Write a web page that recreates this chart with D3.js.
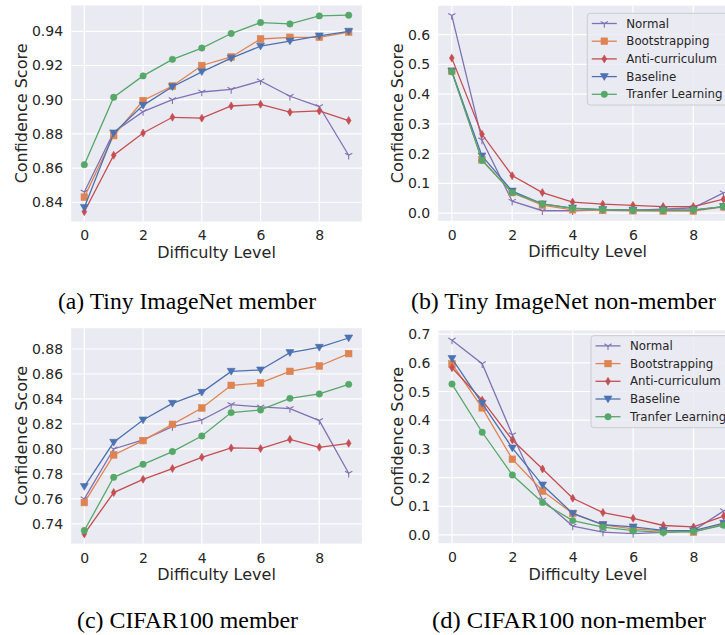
<!DOCTYPE html>
<html>
<head>
<meta charset="utf-8">
<script src="https://cdn.jsdelivr.net/npm/d3@7/dist/d3.min.js"></script>
<style>
  html, body { margin: 0; padding: 0; background: #ffffff; }
  svg { display: block; }
</style>
</head>
<body>
<svg id="chart" width="725" height="635"></svg>
<script>
// ---------------- DATA ----------------
const levels = [0, 1, 2, 3, 4, 5, 6, 7, 8, 9];
const seriesNames = ["Normal", "Bootstrapping", "Anti-curriculum", "Baseline", "Tranfer Learning"];

// (a) Tiny ImageNet member
const tinyMemberNormal   = [0.846, 0.881, 0.893, 0.900, 0.9045, 0.906, 0.911, 0.902, 0.896, 0.8675];
const tinyMemberBoot     = [0.843, 0.879, 0.8995, 0.908, 0.920, 0.925, 0.9355, 0.9365, 0.9365, 0.9395];
const tinyMemberAnti     = [0.8345, 0.8675, 0.8805, 0.8897, 0.8892, 0.8963, 0.8973, 0.8927, 0.8934, 0.8878];
const tinyMemberBaseline = [0.837, 0.8805, 0.8967, 0.9076, 0.9163, 0.9243, 0.9313, 0.9343, 0.9373, 0.9400];
const tinyMemberTransfer = [0.862, 0.9014, 0.9139, 0.9236, 0.9302, 0.9387, 0.9451, 0.9443, 0.949, 0.9494];

// (b) Tiny ImageNet non-member
const tinyNonNormal   = [0.664, 0.246, 0.040, 0.008, 0.008, 0.011, 0.010, 0.013, 0.018, 0.068];
const tinyNonBoot     = [0.477, 0.179, 0.069, 0.027, 0.011, 0.009, 0.008, 0.007, 0.007, 0.021];
const tinyNonAnti     = [0.521, 0.265, 0.126, 0.069, 0.037, 0.030, 0.026, 0.022, 0.022, 0.047];
const tinyNonBaseline = [0.477, 0.192, 0.074, 0.031, 0.017, 0.012, 0.010, 0.010, 0.010, 0.022];
const tinyNonTransfer = [0.475, 0.177, 0.069, 0.031, 0.016, 0.012, 0.010, 0.010, 0.011, 0.022];

// (c) CIFAR100 member
const cifarMemberNormal   = [0.760, 0.800, 0.8072, 0.8179, 0.8232, 0.8355, 0.8336, 0.8323, 0.8227, 0.7805];
const cifarMemberBoot     = [0.7571, 0.7952, 0.8067, 0.8197, 0.8328, 0.8509, 0.8528, 0.8621, 0.8664, 0.8763];
const cifarMemberAnti     = [0.732, 0.7651, 0.7757, 0.7843, 0.7933, 0.8008, 0.8003, 0.8077, 0.8013, 0.8045];
const cifarMemberBaseline = [0.7699, 0.8053, 0.8232, 0.8365, 0.8453, 0.8621, 0.8632, 0.8771, 0.8813, 0.8888];
const cifarMemberTransfer = [0.7347, 0.7773, 0.7877, 0.7979, 0.8104, 0.8291, 0.8312, 0.8405, 0.8440, 0.8517];

// (d) CIFAR100 non-member
const cifarNonNormal   = [0.679, 0.597, 0.349, 0.122, 0.031, 0.010, 0.005, 0.009, 0.015, 0.084];
const cifarNonBoot     = [0.596, 0.443, 0.264, 0.153, 0.075, 0.035, 0.021, 0.014, 0.010, 0.038];
const cifarNonAnti     = [0.583, 0.470, 0.331, 0.230, 0.128, 0.078, 0.058, 0.033, 0.028, 0.066];
const cifarNonBaseline = [0.615, 0.459, 0.303, 0.174, 0.075, 0.036, 0.028, 0.016, 0.015, 0.041];
const cifarNonTransfer = [0.526, 0.358, 0.209, 0.113, 0.050, 0.027, 0.015, 0.009, 0.012, 0.034];

// tick labels
const xTicks = [0, 2, 4, 6, 8];
const yTicksA = [0.84, 0.86, 0.88, 0.90, 0.92, 0.94];
const yTicksB = [0.0, 0.1, 0.2, 0.3, 0.4, 0.5, 0.6];
const yTicksC = [0.74, 0.76, 0.78, 0.80, 0.82, 0.84, 0.86, 0.88];
const yTicksD = [0.0, 0.1, 0.2, 0.3, 0.4, 0.5, 0.6, 0.7];

const captions = ["(a) Tiny ImageNet member", "(b) Tiny ImageNet non-member",
                  "(c) CIFAR100 member", "(d) CIFAR100 non-member"];
const xLabel = "Difficulty Level";
const yLabel = "Confidence Score";

// ---------------- STYLE ----------------
const colors = ["#8172B3", "#DD8452", "#C44E52", "#4C72B0", "#55A868"];
const markers = ["tri", "square", "thindiamond", "vtri", "circle"];
const textColor = "#262626";
const sansFont = "'DejaVu Sans', Verdana, sans-serif";
const serifFont = "'Liberation Serif', 'Times New Roman', serif";

const panels = [
  { series: [tinyMemberNormal, tinyMemberBoot, tinyMemberAnti, tinyMemberBaseline, tinyMemberTransfer],
    ticks: yTicksA, fmt: ".2f", left: 71.1, right: 361.9, top: 5.4, bottom: 221.5,
    caption: captions[0], capX: 58, capW: 258, capY: 309, legend: null },
  { series: [tinyNonNormal, tinyNonBoot, tinyNonAnti, tinyNonBaseline, tinyNonTransfer],
    ticks: yTicksB, fmt: ".1f", left: 438.2, right: 737.1, top: 5.8, bottom: 220.8,
    caption: captions[1], capX: 411, capW: 305, capY: 309, legend: { x: 587.3, y: 13.3, w: 145, h: 91.7 } },
  { series: [cifarMemberNormal, cifarMemberBoot, cifarMemberAnti, cifarMemberBaseline, cifarMemberTransfer],
    ticks: yTicksC, fmt: ".2f", left: 71.1, right: 361.9, top: 328.2, bottom: 543.7,
    caption: captions[2], capX: 77, capW: 221, capY: 628, legend: null },
  { series: [cifarNonNormal, cifarNonBoot, cifarNonAnti, cifarNonBaseline, cifarNonTransfer],
    ticks: yTicksD, fmt: ".1f", left: 438.4, right: 737.3, top: 330.5, bottom: 543.2,
    caption: captions[3], capX: 432, capW: 274, capY: 628, legend: { x: 591, y: 335.7, w: 145, h: 92 } }
];

const svg = d3.select("#chart");

function drawMarker(g, type, color, cx, cy) {
  if (type === "tri") {
    const r = 4.2;
    g.append("path")
      .attr("d", `M${cx},${cy}L${cx},${cy + r}M${cx},${cy}L${cx - r * 0.866},${cy - r * 0.5}M${cx},${cy}L${cx + r * 0.866},${cy - r * 0.5}`)
      .attr("stroke", color).attr("stroke-width", 1.1).attr("fill", "none");
  } else if (type === "square") {
    const s = 6.6;
    g.append("rect").attr("x", cx - s / 2).attr("y", cy - s / 2).attr("width", s).attr("height", s)
      .attr("fill", color).attr("stroke", color).attr("stroke-width", 0.6);
  } else if (type === "thindiamond") {
    const h = 4.0, w = 2.4;
    g.append("path").attr("d", `M${cx},${cy - h}L${cx + w},${cy}L${cx},${cy + h}L${cx - w},${cy}Z`)
      .attr("fill", color).attr("stroke", color).attr("stroke-width", 0.6);
  } else if (type === "vtri") {
    const r = 4.0;
    g.append("path").attr("d", `M${cx - r},${cy - r * 0.75}L${cx + r},${cy - r * 0.75}L${cx},${cy + r * 0.95}Z`)
      .attr("fill", color).attr("stroke", color).attr("stroke-width", 0.6);
  } else if (type === "circle") {
    g.append("circle").attr("cx", cx).attr("cy", cy).attr("r", 3.2)
      .attr("fill", color).attr("stroke", color).attr("stroke-width", 0.6);
  }
}

panels.forEach(p => {
  const all = p.series.flat();
  const [mn, mx] = d3.extent(all);
  const pad = (mx - mn) * 0.05;
  const x = d3.scaleLinear().domain([-0.45, 9.45]).range([p.left, p.right]);
  const y = d3.scaleLinear().domain([mn - pad, mx + pad]).range([p.bottom, p.top]);

  const g = svg.append("g");
  g.append("rect").attr("x", p.left).attr("y", p.top)
    .attr("width", p.right - p.left).attr("height", p.bottom - p.top).attr("fill", "#EAEAF2");

  g.append("g").selectAll("line").data(xTicks).join("line")
    .attr("x1", d => x(d)).attr("x2", d => x(d)).attr("y1", p.top).attr("y2", p.bottom)
    .attr("stroke", "#ffffff").attr("stroke-width", 1.2);
  g.append("g").selectAll("line").data(p.ticks).join("line")
    .attr("x1", p.left).attr("x2", p.right).attr("y1", d => y(d)).attr("y2", d => y(d))
    .attr("stroke", "#ffffff").attr("stroke-width", 1.2);

  const xAxis = d3.axisBottom(x).tickValues(xTicks).tickSize(0).tickPadding(9).tickFormat(d3.format("d"));
  const yAxis = d3.axisLeft(y).tickValues(p.ticks).tickSize(0).tickPadding(8).tickFormat(d3.format(p.fmt));
  const gx = g.append("g").attr("transform", `translate(0,${p.bottom})`).call(xAxis);
  const gy = g.append("g").attr("transform", `translate(${p.left},0)`).call(yAxis);
  [gx, gy].forEach(a => {
    a.select(".domain").remove();
    a.selectAll("text").attr("font-family", sansFont).attr("font-size", 14).attr("fill", textColor);
  });

  const line = d3.line().x((d, i) => x(levels[i])).y(d => y(d));
  const clipId = "clip" + Math.round(p.left) + Math.round(p.top);
  g.append("clipPath").attr("id", clipId).append("rect")
    .attr("x", p.left).attr("y", p.top).attr("width", p.right - p.left).attr("height", p.bottom - p.top);
  const plot = g.append("g").attr("clip-path", `url(#${clipId})`);
  p.series.forEach((vals, si) => {
    const sg = plot.append("g");
    sg.append("path").datum(vals).attr("d", line).attr("fill", "none")
      .attr("stroke", colors[si]).attr("stroke-width", 1.3);
    vals.forEach((v, i) => drawMarker(sg, markers[si], colors[si], x(levels[i]), y(v)));
  });

  g.append("text").attr("x", (p.left + p.right) / 2)
    .attr("y", p.bottom + 36.3).attr("text-anchor", "middle")
    .attr("font-family", sansFont).attr("font-size", 16).attr("fill", textColor).text(xLabel);

  let maxW = 0;
  gy.selectAll("text").each(function () { maxW = Math.max(maxW, this.getBBox().width); });
  const ylx = p.left - 8 - maxW - 5.3;
  g.append("text").attr("transform", `translate(${ylx},${(p.top + p.bottom) / 2}) rotate(-90)`)
    .attr("text-anchor", "middle")
    .attr("font-family", sansFont).attr("font-size", 16).attr("fill", textColor).text(yLabel);

  if (p.legend) {
    const L = p.legend;
    const lg = svg.append("g");
    lg.append("rect").attr("x", L.x).attr("y", L.y).attr("width", L.w).attr("height", L.h)
      .attr("rx", 3).attr("fill", "#EAEAF2").attr("fill-opacity", 0.8)
      .attr("stroke", "#CCCCCC").attr("stroke-width", 1);
    seriesNames.forEach((name, si) => {
      const cy = L.y + 10.2 + si * 17.7;
      lg.append("line").attr("x1", L.x + 4.5).attr("x2", L.x + 29.5).attr("y1", cy).attr("y2", cy)
        .attr("stroke", colors[si]).attr("stroke-width", 1.3);
      drawMarker(lg, markers[si], colors[si], L.x + 17, cy);
      lg.append("text").attr("x", L.x + 39).attr("y", cy).attr("dy", "0.35em")
        .attr("font-family", sansFont).attr("font-size", 11.8).attr("fill", textColor).text(name);
    });
  }

  svg.append("text").attr("x", p.capX).attr("y", p.capY)
    .attr("font-family", serifFont).attr("font-size", 24).attr("fill", "#000000")
    .attr("textLength", p.capW).attr("lengthAdjust", "spacingAndGlyphs").text(p.caption);
});
</script>
</body>
</html>
